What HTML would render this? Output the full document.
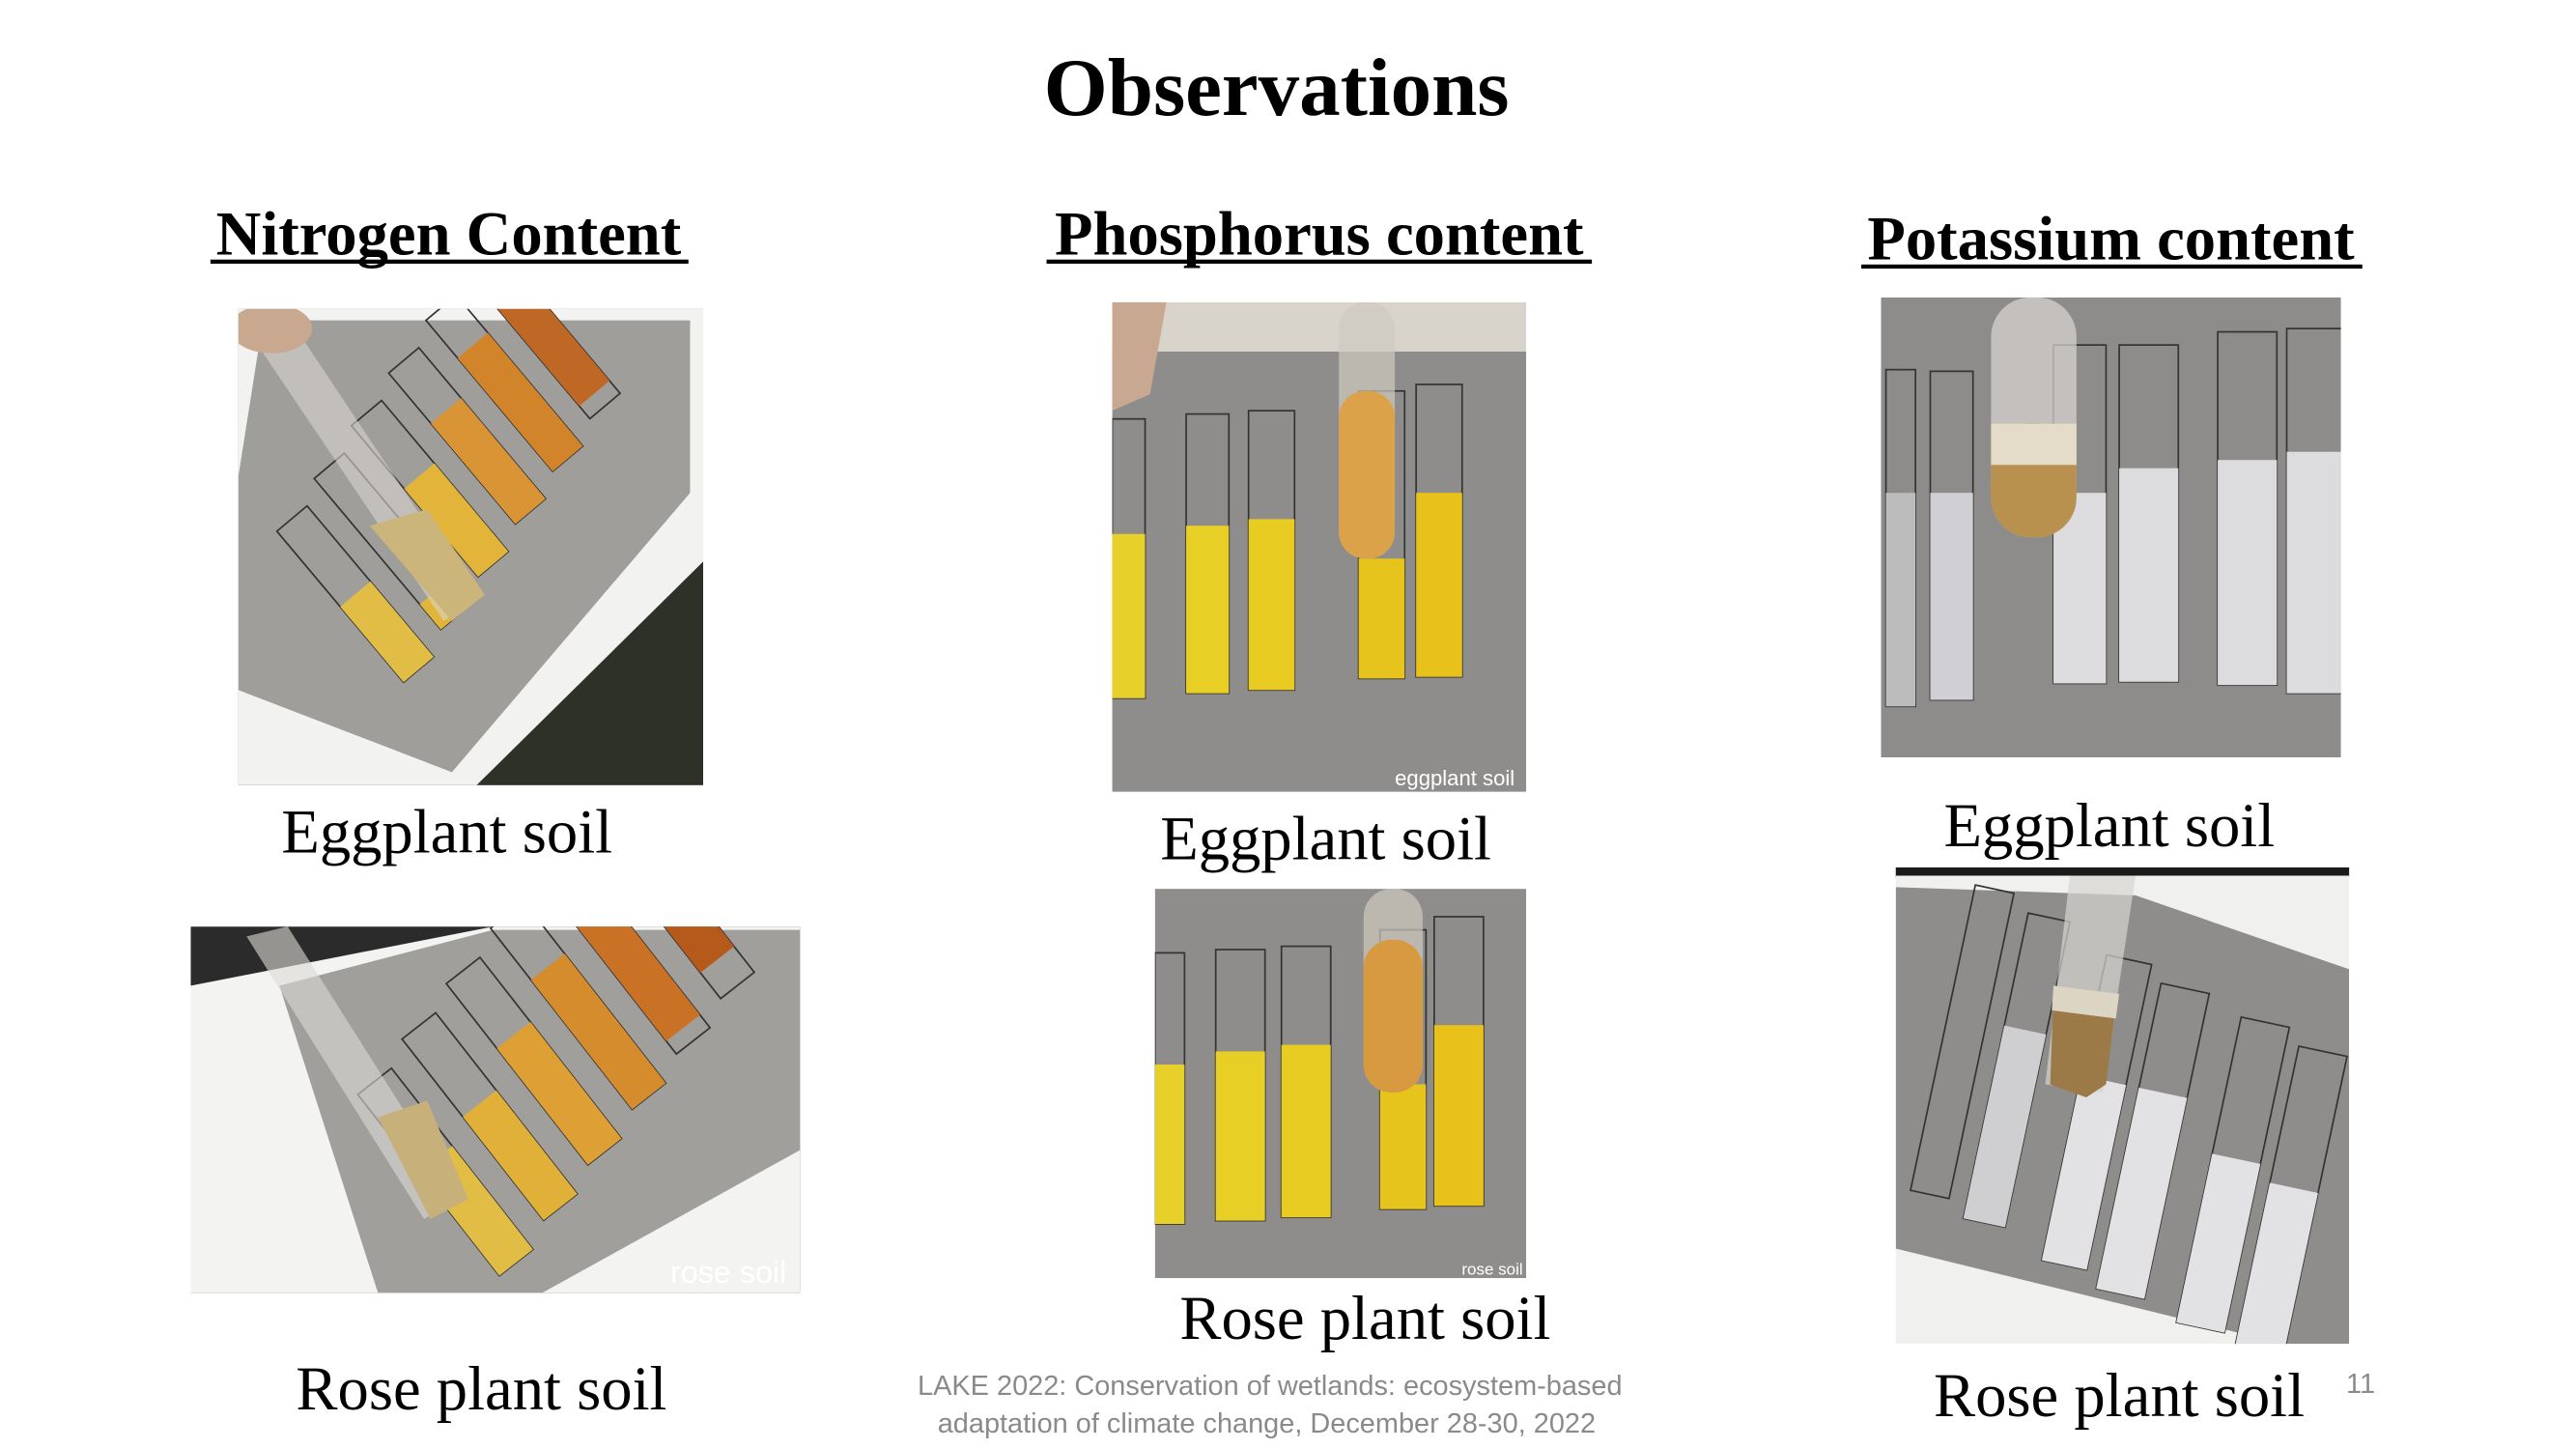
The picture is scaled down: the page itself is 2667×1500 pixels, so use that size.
<!DOCTYPE html>
<html><head><meta charset="utf-8"><style>
html,body{margin:0;padding:0;background:#fff;}
svg{display:block;}
.ti{font-family:"Liberation Serif",serif;font-weight:bold;}
.cap{font-family:"Liberation Serif",serif;font-size:38px;fill:#000;}
.ft{font-family:"Liberation Sans","DejaVu Sans",sans-serif;font-size:17px;fill:#8a8a8a;}
</style></head><body>
<svg width="2667" height="1500" viewBox="0 0 1568 882" xmlns="http://www.w3.org/2000/svg">
<defs>
<clipPath id="cN1"><rect x="145" y="188" width="283" height="290"/></clipPath>
<clipPath id="cN2"><rect x="116" y="564" width="371" height="223"/></clipPath>
<clipPath id="cP1"><rect x="677" y="184" width="252" height="298"/></clipPath>
<clipPath id="cP2"><rect x="703" y="541" width="226" height="237"/></clipPath>
<clipPath id="cK1"><rect x="1145" y="181" width="280" height="280"/></clipPath>
<clipPath id="cK2"><rect x="1154" y="533" width="276" height="285"/></clipPath>
</defs>

<text x="777" y="70" text-anchor="middle" class="ti" font-size="50">Observations</text>
<text x="273" y="155" text-anchor="middle" class="ti" font-size="38">Nitrogen Content</text>
<rect x="128" y="158" width="291" height="2.5"/>
<text x="803" y="155" text-anchor="middle" class="ti" font-size="38">Phosphorus content</text>
<rect x="637" y="158" width="332" height="2.5"/>
<text x="1285" y="158" text-anchor="middle" class="ti" font-size="38">Potassium content</text>
<rect x="1133" y="161" width="305" height="2.5"/>

<!-- N1 -->
<g clip-path="url(#cN1)">
<rect x="145" y="188" width="283" height="290" fill="#2e3128"/>
<polygon points="145,180 440,180 440,330 290,478 145,478" fill="#f2f2f0"/>
<polygon points="160,195 420,195 420,300 275,470 145,420 145,290" fill="#a09e9b"/>
<g transform="rotate(-40 285 330)">
 <rect x="200" y="250" width="24" height="120" fill="none" stroke="#333"/><rect x="200" y="310" width="24" height="60" fill="#e2bd45"/>
 <rect x="238" y="240" width="24" height="120" fill="none" stroke="#333"/><rect x="238" y="340" width="24" height="20" fill="#e0b53a"/>
 <rect x="276" y="230" width="24" height="120" fill="none" stroke="#333"/><rect x="276" y="280" width="24" height="70" fill="#e2b43a"/>
 <rect x="314" y="220" width="24" height="120" fill="none" stroke="#333"/><rect x="314" y="260" width="24" height="80" fill="#d99436"/>
 <rect x="352" y="210" width="24" height="120" fill="none" stroke="#333"/><rect x="352" y="240" width="24" height="90" fill="#d2842a"/>
 <rect x="390" y="200" width="24" height="120" fill="none" stroke="#333"/><rect x="390" y="220" width="24" height="90" fill="#bf6724"/>
</g>
<polygon points="150,200 172,188 290,365 270,378" fill="#d9d6d0" opacity="0.6"/>
<polygon points="225,320 260,310 295,362 275,378" fill="#cbb57a"/>
<ellipse cx="165" cy="200" rx="25" ry="15" fill="#c9a890"/>
</g>

<!-- N2 -->
<g clip-path="url(#cN2)">
<rect x="116" y="564" width="371" height="223" fill="#2b2b2b"/>
<polygon points="116,600 300,564 487,564 487,787 116,787" fill="#f3f3f1"/>
<polygon points="170,600 300,566 487,566 487,700 330,787 230,787" fill="#a19f9c"/>
<g transform="rotate(-38 330 680)">
 <rect x="250" y="600" width="26" height="140" fill="none" stroke="#333"/><rect x="250" y="660" width="26" height="80" fill="#e2bd45"/>
 <rect x="292" y="590" width="26" height="140" fill="none" stroke="#333"/><rect x="292" y="650" width="26" height="80" fill="#e0b038"/>
 <rect x="334" y="580" width="26" height="140" fill="none" stroke="#333"/><rect x="334" y="630" width="26" height="90" fill="#dea035"/>
 <rect x="376" y="570" width="26" height="140" fill="none" stroke="#333"/><rect x="376" y="610" width="26" height="100" fill="#d58c2c"/>
 <rect x="418" y="560" width="26" height="140" fill="none" stroke="#333"/><rect x="418" y="590" width="26" height="100" fill="#c97124"/>
 <rect x="460" y="550" width="26" height="140" fill="none" stroke="#333"/><rect x="460" y="570" width="26" height="100" fill="#b65a1c"/>
</g>
<polygon points="150,570 175,564 280,730 258,742" fill="#dcdad6" opacity="0.6"/>
<polygon points="230,680 260,670 285,730 262,742" fill="#c8b07a"/>
<text x="408" y="781" font-family="Liberation Sans,sans-serif" font-size="19" fill="#fff">rose soil</text>
</g>

<!-- P1 -->
<g clip-path="url(#cP1)">
<rect x="677" y="184" width="252" height="298" fill="#8f8d8b"/>
<rect x="677" y="184" width="252" height="30" fill="#d8d4cc"/>
<rect x="677" y="255" width="20" height="170" fill="none" stroke="#333"/><rect x="677" y="325" width="20" height="100" fill="#e8d02a"/>
<rect x="722" y="252" width="26" height="170" fill="none" stroke="#333"/><rect x="722" y="320" width="26" height="102" fill="#e8cf25"/>
<rect x="760" y="250" width="28" height="170" fill="none" stroke="#333"/><rect x="760" y="316" width="28" height="104" fill="#e8cc22"/>
<rect x="827" y="238" width="28" height="175" fill="none" stroke="#333"/><rect x="827" y="340" width="28" height="73" fill="#e6c41c"/>
<rect x="862" y="234" width="28" height="178" fill="none" stroke="#333"/><rect x="862" y="300" width="28" height="112" fill="#e8c21a"/>
<rect x="815" y="184" width="34" height="156" rx="16" fill="#cfcac0" opacity="0.7"/>
<rect x="815" y="238" width="34" height="102" rx="16" fill="#dca24a"/>
<polygon points="677,184 710,184 700,240 677,250" fill="#c8a890"/>
<text x="922" y="478" text-anchor="end" font-family="Liberation Sans,sans-serif" font-size="13" fill="#fff">eggplant soil</text>
</g>

<!-- P2 -->
<g clip-path="url(#cP2)">
<rect x="703" y="541" width="226" height="237" fill="#8f8d8b"/>
<rect x="703" y="580" width="18" height="165" fill="none" stroke="#333"/><rect x="703" y="648" width="18" height="97" fill="#e8d02a"/>
<rect x="740" y="578" width="30" height="165" fill="none" stroke="#333"/><rect x="740" y="640" width="30" height="103" fill="#e8cf25"/>
<rect x="780" y="576" width="30" height="165" fill="none" stroke="#333"/><rect x="780" y="636" width="30" height="105" fill="#e8cc22"/>
<rect x="840" y="566" width="28" height="170" fill="none" stroke="#333"/><rect x="840" y="660" width="28" height="76" fill="#e6c41c"/>
<rect x="873" y="558" width="30" height="176" fill="none" stroke="#333"/><rect x="873" y="624" width="30" height="110" fill="#e8c21a"/>
<rect x="830" y="541" width="36" height="124" rx="17" fill="#cfcac0" opacity="0.7"/>
<rect x="830" y="572" width="36" height="93" rx="17" fill="#d89a40"/>
<text x="927" y="776" text-anchor="end" font-family="Liberation Sans,sans-serif" font-size="10" fill="#fff">rose soil</text>
</g>

<!-- K1 -->
<g clip-path="url(#cK1)">
<rect x="1145" y="181" width="280" height="280" fill="#8e8c8a"/>
<rect x="1148" y="225" width="18" height="205" fill="none" stroke="#333"/><rect x="1148" y="300" width="18" height="130" fill="#bdbcbc"/>
<rect x="1175" y="226" width="26" height="200" fill="none" stroke="#333"/><rect x="1175" y="300" width="26" height="126" fill="#d0d0d4"/>
<rect x="1250" y="210" width="32" height="206" fill="none" stroke="#333"/><rect x="1250" y="300" width="32" height="116" fill="#dcdcdf"/>
<rect x="1290" y="210" width="36" height="205" fill="none" stroke="#333"/><rect x="1290" y="285" width="36" height="130" fill="#dcdcdf"/>
<rect x="1350" y="202" width="36" height="215" fill="none" stroke="#333"/><rect x="1350" y="280" width="36" height="137" fill="#dcdcdf"/>
<rect x="1392" y="200" width="36" height="222" fill="none" stroke="#333"/><rect x="1392" y="275" width="36" height="147" fill="#dcdcdf"/>
<rect x="1212" y="181" width="52" height="146" rx="24" fill="#d4d2ce" opacity="0.75"/>
<rect x="1212" y="258" width="52" height="69" rx="24" fill="#b9914f"/>
<rect x="1212" y="258" width="52" height="25" fill="#e4dcc8"/>
</g>

<!-- K2 -->
<rect x="1154" y="528" width="276" height="6" fill="#1a1a1a"/>
<g clip-path="url(#cK2)">
<rect x="1154" y="533" width="276" height="285" fill="#f0f0ef"/>
<polygon points="1154,540 1300,545 1430,590 1430,818 1390,818 1154,760" fill="#8f8d8b"/>
<g transform="rotate(12 1290 680)">
 <rect x="1175" y="560" width="24" height="190" fill="none" stroke="#333"/>
 <rect x="1210" y="570" width="26" height="190" fill="none" stroke="#333"/><rect x="1210" y="640" width="26" height="120" fill="#cfcfd2"/>
 <rect x="1262" y="585" width="28" height="190" fill="none" stroke="#333"/><rect x="1262" y="660" width="28" height="115" fill="#e2e2e4"/>
 <rect x="1298" y="595" width="30" height="190" fill="none" stroke="#333"/><rect x="1298" y="660" width="30" height="125" fill="#e2e2e4"/>
 <rect x="1350" y="605" width="30" height="190" fill="none" stroke="#333"/><rect x="1350" y="690" width="30" height="105" fill="#e2e2e4"/>
 <rect x="1388" y="615" width="30" height="190" fill="none" stroke="#333"/><rect x="1388" y="700" width="30" height="105" fill="#e2e2e4"/>
</g>
<polygon points="1260,533 1300,533 1280,665 1245,660" fill="#d6d4d0" opacity="0.7"/>
<polygon points="1250,605 1288,610 1282,660 1270,668 1248,660" fill="#9b7a48"/>
<polygon points="1250,600 1290,605 1288,620 1249,615" fill="#ddd5c4"/>
</g>

<text x="272" y="519" text-anchor="middle" class="cap">Eggplant soil</text>
<text x="807" y="523" text-anchor="middle" class="cap">Eggplant soil</text>
<text x="1284" y="515" text-anchor="middle" class="cap">Eggplant soil</text>
<text x="293" y="858" text-anchor="middle" class="cap">Rose plant soil</text>
<text x="831" y="815" text-anchor="middle" class="cap">Rose plant soil</text>
<text x="1290" y="862" text-anchor="middle" class="cap">Rose plant soil</text>

<text x="773" y="849" text-anchor="middle" class="ft">LAKE 2022: Conservation of wetlands: ecosystem-based</text>
<text x="771" y="872" text-anchor="middle" class="ft">adaptation of climate change, December 28-30, 2022</text>
<text x="1437" y="848" text-anchor="middle" class="ft" font-size="15">11</text>
</svg>
</body></html>
